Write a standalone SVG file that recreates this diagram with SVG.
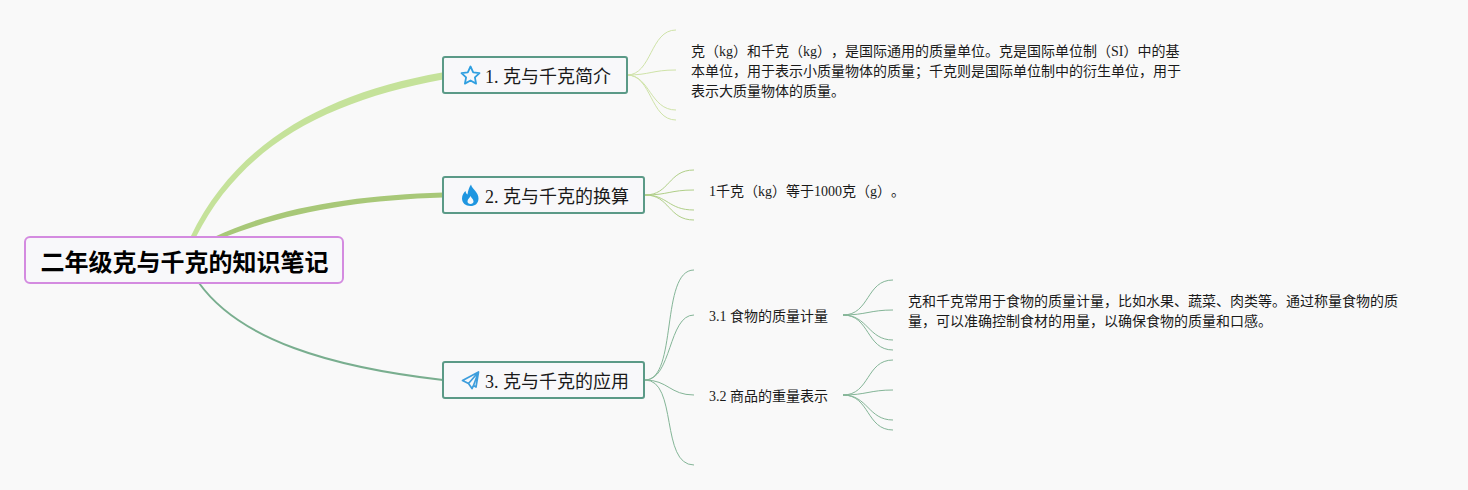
<svg xmlns="http://www.w3.org/2000/svg" width="1468" height="490" viewBox="0 0 1468 490">
<style>
text{font-family:"Liberation Serif","Noto Sans CJK SC",serif;fill:#1a1a1a;text-spacing-trim:space-all}
.root{font-size:24px;font-weight:700;fill:#000}
.b{font-size:18px}
.l{font-size:14px}
.nb{fill:#f8f8fa;stroke:#5b9a87;stroke-width:2}
.c1{fill:none;stroke:#cfe3a8;stroke-width:1}
.c2{fill:none;stroke:#b0cf88;stroke-width:1}
.c3{fill:none;stroke:#84b597;stroke-width:1}
</style>
<rect width="1468" height="490" fill="#f9f9f9"/>
<g id="connectors">
<path d="M190.500 237C237 140 330 92 442 72.500L443 79.500C332 100 243 143 196 237Z" fill="#c5e29a"/>
<path d="M214 237C280 206 360 195 443 192.500L443 197.500C360 200 288 212 222 238Z" fill="#a8c878"/>
<path d="M199 283C240 340 330 367 443 380" fill="none" stroke="#79ae8f" stroke-width="2"/>
<g class="c1"><path d="M627 75C652 75 650 30 676 30"/><path d="M627 75C650 75 652 70 676 70"/><path d="M627 75C650 75 650 110 676 110"/><path d="M627 75C652 75 650 120 676 120"/></g>
<g class="c2"><path d="M645 195C670 195 668 170 694 170"/><path d="M645 195C668 195 670 190 694 190"/><path d="M645 195C668 195 668 210 694 210"/><path d="M645 195C670 195 668 220 694 220"/></g>
<g class="c3"><path d="M645 380C678 380 660 270 694 270"/><path d="M645 380C672 380 668 315 694 315"/><path d="M645 380C668 380 670 395 694 395"/><path d="M645 380C678 380 660 465 694 465"/>
<path d="M843 315C870 315 866 280 893 280"/><path d="M843 315C866 315 870 310 893 310"/><path d="M843 315C868 315 868 340 893 340"/><path d="M843 315C870 315 866 350 893 350"/>
<path d="M843 395C870 395 866 360 893 360"/><path d="M843 395C866 395 870 390 893 390"/><path d="M843 395C868 395 868 420 893 420"/><path d="M843 395C870 395 866 430 893 430"/></g>
</g>
<g id="root"><rect x="25" y="237" width="318" height="46" rx="5" fill="#f8f8fa" stroke="#d48be0" stroke-width="2"/><text class="root" x="40.500" y="271">二年级克与千克的知识笔记</text></g>
<g id="n1"><rect class="nb" x="443" y="57" width="184" height="36" rx="2"/>
<path d="M470.500 66.500L473.200 72.300L479.500 73.100L474.900 77.400L476.100 83.600L470.500 80.500L464.900 83.600L466.100 77.400L461.500 73.100L467.800 72.300Z" fill="none" stroke="#2f9fe0" stroke-width="1.800" stroke-linejoin="round"/>
<text class="b" x="485" y="83">1. 克与千克简介</text></g>
<g id="n2"><rect class="nb" x="443" y="177" width="201" height="36" rx="2"/>
<path d="M471 184.500C472 189 478.500 192 478.500 198.500C478.500 203.500 475 206 470.500 206C465.500 206 462 203 462 198.500C462 195 464 192.500 465.500 191C465.800 193 466.500 194 467.500 194.500C468 191 469 187 471 184.500ZM470.500 196C470 198 467.500 199 467.500 201.500C467.500 203 468.800 204 470.500 204C472.200 204 473.500 203 473.500 201.500C473.500 199 471 198 470.500 196Z" fill="#1f96e0" fill-rule="evenodd"/>
<text class="b" x="485" y="203">2. 克与千克的换算</text></g>
<g id="n3"><rect class="nb" x="443" y="362" width="201" height="36" rx="2"/>
<path d="M478.500 372L462.500 380.500L468.500 383.500L472 388.500L473.500 385.500L476 387ZM468.500 383.500L478.500 372L473.500 385.500" fill="none" stroke="#3d9ddc" stroke-width="1.700" stroke-linejoin="round"/>
<text class="b" x="485" y="388">3. 克与千克的应用</text></g>
<g id="t1"><text class="l" x="691" y="56">克（kg）和千克（kg），是国际通用的质量单位。克是国际单位制（SI）中的基</text><text class="l" x="691" y="76">本单位，用于表示小质量物体的质量；千克则是国际单位制中的衍生单位，用于</text><text class="l" x="691" y="96">表示大质量物体的质量。</text></g>
<g id="t2"><text class="l" x="709" y="196">1千克（kg）等于1000克（g）。</text></g>
<g id="n31"><text class="l" x="709" y="321">3.1 食物的质量计量</text></g>
<g id="n32"><text class="l" x="709" y="401">3.2 商品的重量表示</text></g>
<g id="t31"><text class="l" x="908" y="306">克和千克常用于食物的质量计量，比如水果、蔬菜、肉类等。通过称量食物的质</text><text class="l" x="908" y="326">量，可以准确控制食材的用量，以确保食物的质量和口感。</text></g>
</svg>
